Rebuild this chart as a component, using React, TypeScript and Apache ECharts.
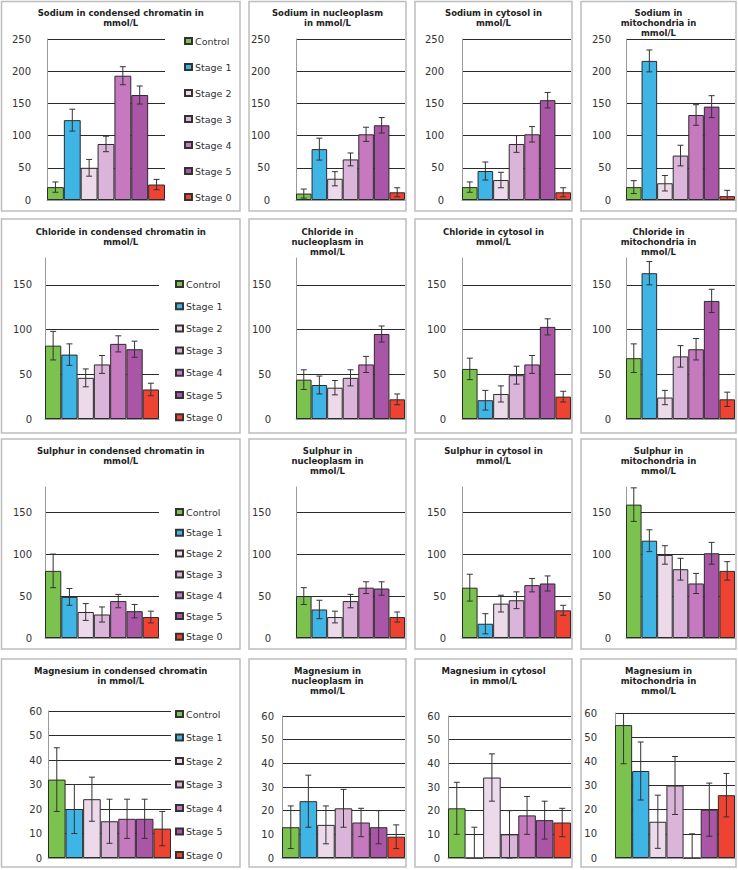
import React, { useEffect, useRef } from "react";
import * as echarts from "echarts";

// ---------- data ----------
const STAGES = ["Control", "Stage 1", "Stage 2", "Stage 3", "Stage 4", "Stage 5", "Stage 0"];

const TITLES = [
  "Sodium in condensed chromatin in\nmmol/L",
  "Sodium in nucleoplasm\nin mmol/L",
  "Sodium in cytosol in\nmmol/L",
  "Sodium in\nmitochondria in\nmmol/L",
  "Chloride in condensed chromatin in\nmmol/L",
  "Chloride in\nnucleoplasm in\nmmol/L",
  "Chloride in cytosol in\nmmol/L",
  "Chloride in\nmitochondria in\nmmol/L",
  "Sulphur in condensed chromatin in\nmmol/L",
  "Sulphur in\nnucleoplasm in\nmmol/L",
  "Sulphur in cytosol in\nmmol/L",
  "Sulphur in\nmitochondria in\nmmol/L",
  "Magnesium in condensed chromatin\nin mmol/L",
  "Magnesium in\nnucleoplasm in\nmmol/L",
  "Magnesium in cytosol\nin mmol/L",
  "Magnesium in\nmitochondria in\nmmol/L",
];

const ROW_MAX = [250, 180, 180, 60];
const ROW_INTERVAL = [50, 50, 50, 10];

// Sodium
const NA_CHROMATIN = [20, 124, 50, 87, 193, 163, 24];
const NA_CHROMATIN_ERR = [8, 17, 13, 12, 14, 14, 8];
const NA_NUCLEOPLASM = [10, 79, 33, 63, 102, 116, 12];
const NA_NUCLEOPLASM_ERR = [7, 17, 11, 10, 11, 12, 7];
const NA_CYTOSOL = [20, 45, 31, 87, 102, 155, 12];
const NA_CYTOSOL_ERR = [8, 14, 12, 13, 12, 12, 7];
const NA_MITO = [20, 216, 26, 69, 132, 145, 6];
const NA_MITO_ERR = [10, 17, 12, 16, 16, 17, 9];

// Chloride
const CL_CHROMATIN = [82, 72, 46, 61, 84, 78, 33];
const CL_CHROMATIN_ERR = [16, 12, 10, 10, 9, 9, 7];
const CL_NUCLEOPLASM = [44, 38, 35, 46, 61, 95, 22];
const CL_NUCLEOPLASM_ERR = [11, 10, 8, 9, 9, 9, 6];
const CL_CYTOSOL = [56, 21, 28, 49, 61, 103, 25];
const CL_CYTOSOL_ERR = [12, 11, 9, 10, 10, 9, 6];
const CL_MITO = [68, 163, 24, 70, 78, 132, 22];
const CL_MITO_ERR = [16, 13, 8, 12, 12, 13, 8];

// Sulphur
const S_CHROMATIN = [80, 49, 31, 28, 44, 32, 25];
const S_CHROMATIN_ERR = [20, 10, 10, 9, 8, 8, 7];
const S_NUCLEOPLASM = [50, 34, 25, 44, 60, 59, 25];
const S_NUCLEOPLASM_ERR = [10, 11, 7, 8, 7, 8, 6];
const S_CYTOSOL = [60, 17, 41, 45, 63, 65, 33];
const S_CYTOSOL_ERR = [16, 12, 10, 10, 8, 9, 6];
const S_MITO = [159, 116, 99, 82, 65, 101, 80];
const S_MITO_ERR = [20, 13, 11, 13, 12, 13, 11];

// Magnesium
const MG_CHROMATIN = [32, 20, 24, 15, 16, 16, 12];
const MG_CHROMATIN_ERR = [13, 10, 9, 9, 8, 8, 7];
const MG_NUCLEOPLASM = [13, 24, 14, 21, 15, 13, 9];
const MG_NUCLEOPLASM_ERR = [9, 11, 8, 8, 6, 7, 5];
const MG_CYTOSOL = [21, 0, 34, 10, 18, 16, 15];
const MG_CYTOSOL_ERR = [11, 13, 10, 10, 8, 8, 6];
const MG_MITO = [55, 36, 15, 30, 0, 20, 26];
const MG_MITO_ERR = [16, 12, 11, 12, 10, 11, 9];

const VALUES = [
  NA_CHROMATIN, NA_NUCLEOPLASM, NA_CYTOSOL, NA_MITO,
  CL_CHROMATIN, CL_NUCLEOPLASM, CL_CYTOSOL, CL_MITO,
  S_CHROMATIN, S_NUCLEOPLASM, S_CYTOSOL, S_MITO,
  MG_CHROMATIN, MG_NUCLEOPLASM, MG_CYTOSOL, MG_MITO,
];
const ERRORS = [
  NA_CHROMATIN_ERR, NA_NUCLEOPLASM_ERR, NA_CYTOSOL_ERR, NA_MITO_ERR,
  CL_CHROMATIN_ERR, CL_NUCLEOPLASM_ERR, CL_CYTOSOL_ERR, CL_MITO_ERR,
  S_CHROMATIN_ERR, S_NUCLEOPLASM_ERR, S_CYTOSOL_ERR, S_MITO_ERR,
  MG_CHROMATIN_ERR, MG_NUCLEOPLASM_ERR, MG_CYTOSOL_ERR, MG_MITO_ERR,
];

// ---------- styles / layout ----------
const COLORS = ["#7cc24e", "#3fb5e5", "#ecdaea", "#dbb4d9", "#c679bf", "#a956a6", "#ee4232"];
const FONT = "DejaVu Sans";

const PANEL_COLS = [[1.5, 240], [249, 406], [415, 572], [581, 736]];
const PANEL_ROWS = [[1.5, 211], [219, 433], [439, 649], [659, 867]];

// left, top, width, height of every plot area
const PLOTS = [
  [47, 39, 118, 161], [296, 39, 109, 161], [462, 39, 109, 161], [626, 39, 109, 161],
  [45, 258, 114, 161], [296, 258, 109, 161], [462, 258, 109, 161], [626, 258, 109, 161],
  [45, 487, 114, 151], [296, 487, 109, 151], [462, 487, 109, 151], [626, 487, 109, 151],
  [48, 711, 123, 147], [282, 716, 123, 142], [448, 716, 123, 142], [615, 713, 120, 145],
];
const LABEL_MARGIN = [
  16, 26, 18, 15,
  13, 25, 16, 15,
  13, 25, 16, 15,
  6, 8, 8, 18,
];
const TITLE_TOP = [8, 227, 446, 666];
const LEGEND_LEFT = [184, 175, 175, 175];
const LEGEND_TOP = [36, 279, 507, 709];
const LEGEND_GAP = [16, 12.2, 10.8, 13.5];

function buildOption() {
  const title: any[] = [];
  const grid: any[] = [];
  const xAxis: any[] = [];
  const yAxis: any[] = [];
  const series: any[] = [];
  const graphic: any[] = [];
  const legend: any[] = [];

  for (let r = 0; r < 4; r++) {
    for (let c = 0; c < 4; c++) {
      graphic.push({
        type: "rect",
        silent: true,
        z: -10,
        shape: {
          x: PANEL_COLS[c][0],
          y: PANEL_ROWS[r][0],
          width: PANEL_COLS[c][1] - PANEL_COLS[c][0],
          height: PANEL_ROWS[r][1] - PANEL_ROWS[r][0],
        },
        style: { fill: "none", stroke: "#bdbdbd", lineWidth: 1.5 },
      });
    }
  }

  for (let i = 0; i < 16; i++) {
    const r = Math.floor(i / 4);
    const c = i % 4;
    const [l, t, w, h] = PLOTS[i];
    const ymax = ROW_MAX[r];
    const cx = (PANEL_COLS[c][0] + PANEL_COLS[c][1]) / 2;
    title.push({
      text: TITLES[i],
      left: cx,
      top: TITLE_TOP[r],
      textAlign: "center",
      padding: 0,
      textStyle: { fontFamily: FONT, fontSize: 8.5, fontWeight: "bold", color: "#222", lineHeight: 10 },
    });
    grid.push({ left: l, top: t, width: w, height: h, containLabel: false });
    xAxis.push({
      type: "category",
      gridIndex: i,
      data: STAGES,
      axisTick: { show: false },
      axisLabel: { show: false },
      axisLine: { show: true, lineStyle: { color: "#9a9a9a", width: 1 } },
      splitLine: { show: false },
    });
    const hideTop = r === 1 || r === 2;
    yAxis.push({
      type: "value",
      gridIndex: i,
      min: 0,
      max: ymax,
      interval: ROW_INTERVAL[r],
      axisLine: { show: true, lineStyle: { color: "#9a9a9a", width: 1 } },
      axisTick: { show: false },
      axisLabel: {
        margin: LABEL_MARGIN[i],
        fontFamily: FONT,
        fontSize: 10,
        color: "#333",
        showMaxLabel: !hideTop,
      },
      splitLine: {
        show: true,
        showMaxLine: !hideTop,
        lineStyle: { color: "#2b2b2b", width: 1 },
      },
    });
    const vals = VALUES[i];
    const errs = ERRORS[i];
    series.push({
      type: "bar",
      name: TITLES[i].replace(/\n/g, " "),
      xAxisIndex: i,
      yAxisIndex: i,
      barCategoryGap: "0%",
      itemStyle: { borderColor: "#2b2b2b", borderWidth: 1 },
      data: vals.map((v, k) => ({ value: v, itemStyle: { color: COLORS[k] } })),
      z: 2,
    });
    series.push({
      type: "custom",
      name: "error " + i,
      xAxisIndex: i,
      yAxisIndex: i,
      z: 5,
      encode: { x: 0, y: [1, 2] },
      data: vals.map((v, k) => [k, v - errs[k], v + errs[k]]),
      renderItem: (params: any, api: any) => {
        const idx = api.value(0);
        const lo = api.value(1);
        const hi = api.value(2);
        const top = api.coord([idx, Math.min(hi, ymax)]);
        const bot = api.coord([idx, Math.max(lo, 0)]);
        const x = top[0];
        const cap = 3;
        const st = { stroke: "#333", lineWidth: 1 };
        const children: any[] = [
          { type: "line", shape: { x1: x, y1: top[1], x2: x, y2: bot[1] }, style: st },
        ];
        if (hi <= ymax)
          children.push({ type: "line", shape: { x1: x - cap, y1: top[1], x2: x + cap, y2: top[1] }, style: st });
        if (lo >= 0)
          children.push({ type: "line", shape: { x1: x - cap, y1: bot[1], x2: x + cap, y2: bot[1] }, style: st });
        return { type: "group", children };
      },
    });
  }

  // hidden grid holding the legend series
  grid.push({ left: -300, top: -300, width: 10, height: 10 });
  xAxis.push({ type: "category", gridIndex: 16, show: false, data: ["x"] });
  yAxis.push({ type: "value", gridIndex: 16, show: false });
  STAGES.forEach((s, k) => {
    series.push({
      type: "bar",
      name: s,
      xAxisIndex: 16,
      yAxisIndex: 16,
      data: [],
      itemStyle: { color: COLORS[k], borderColor: "#333", borderWidth: 1 },
    });
  });

  for (let r = 0; r < 4; r++) {
    legend.push({
      data: STAGES,
      orient: "vertical",
      left: LEGEND_LEFT[r],
      top: LEGEND_TOP[r],
      itemGap: LEGEND_GAP[r],
      itemWidth: 7,
      itemHeight: 6,
      icon: "rect",
      padding: 0,
      selectedMode: false,
      textStyle: { fontFamily: FONT, fontSize: 9.5, color: "#333", lineHeight: 10, padding: [0, 0, 0, -2] },
    });
  }

  return {
    animation: false,
    backgroundColor: "#ffffff",
    textStyle: { fontFamily: FONT },
    title,
    legend,
    grid,
    xAxis,
    yAxis,
    series,
    graphic,
  };
}

export default function App() {
  const ref = useRef<HTMLDivElement>(null);
  useEffect(() => {
    if (!ref.current) return;
    const chart = echarts.init(ref.current, undefined, { renderer: "svg" });
    chart.setOption(buildOption() as any);
    return () => chart.dispose();
  }, []);
  return (
    <div
      ref={ref}
      style={{ position: "fixed", left: 0, top: 0, width: 738, height: 870, background: "#fff" }}
    />
  );
}
